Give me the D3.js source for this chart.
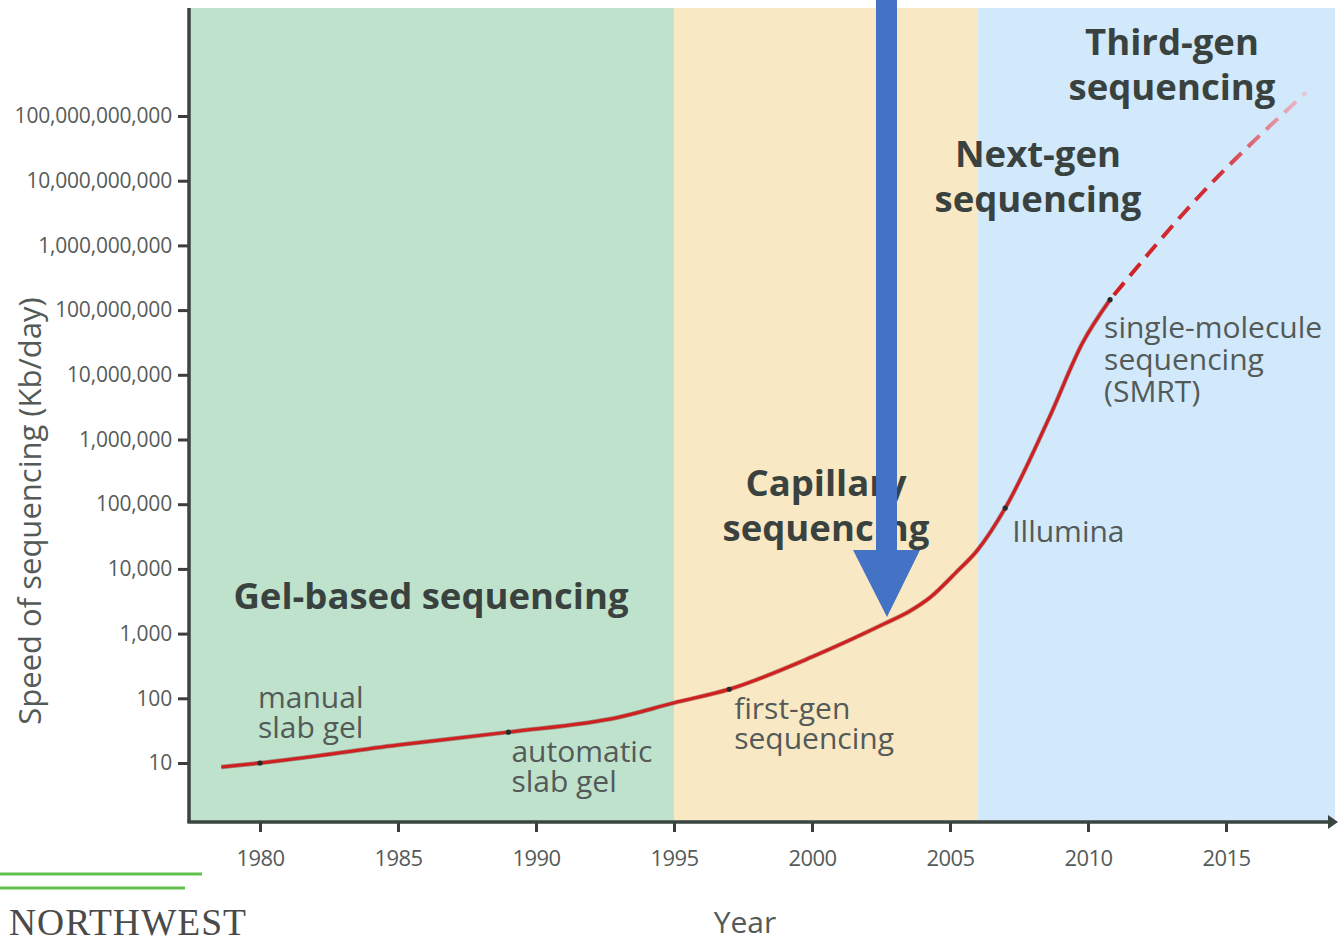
<!DOCTYPE html>
<html>
<head>
<meta charset="utf-8">
<script src="https://cdn.jsdelivr.net/npm/d3@7"></script>
<style>
  html, body { margin: 0; padding: 0; background: #ffffff; }
  svg { display: block; }
</style>
</head>
<body>
<svg id="chart" width="1338" height="942"></svg>
<script>
// ---------------- DATA ----------------
const eraNames  = ["Gel-based", "Capillary", "Next-gen/Third-gen"];
const eraStart  = [1977.43, 1995, 2006];
const eraEnd    = [1995, 2006, 2018.95];

const yTickValues = [10, 100, 1e3, 1e4, 1e5, 1e6, 1e7, 1e8, 1e9, 1e10, 1e11];
const xTickValues = [1980, 1985, 1990, 1995, 2000, 2005, 2010, 2015];

// solid curve (year, Kb/day)
const solidYears  = [1978.6, 1980, 1985, 1989, 1993, 1995, 1997, 2000, 2001.3, 2002.6, 2003.55, 2004.3, 2005.2, 2006, 2007, 2008.6, 2009.8, 2010.8];
const solidValues = [8.7, 10, 19, 30, 51, 85, 138, 436, 769, 1406, 2234, 3680, 8650, 19600, 87000, 2.2e6, 3.1e7, 1.45e8];

// projected (dashed) curve
const dashYears  = [2010.8, 2014, 2017.9];
const dashValues = [1.45e8, 5.6e9, 2.3e11];

// technology milestones
const milestoneYears  = [1980, 1989, 1997, 2007, 2010.8];
const milestoneValues = [10, 30, 138, 87000, 1.45e8];
const milestoneLabels = [["manual", "slab gel"], ["automatic", "slab gel"], ["first-gen", "sequencing"], ["Illumina"], ["single-molecule", "sequencing", "(SMRT)"]];

// era headings
const headingLines = [["Gel-based sequencing"], ["Capillary", "sequencing"], ["Next-gen", "sequencing"], ["Third-gen", "sequencing"]];

// ---------------- LAYOUT ----------------
const svg = d3.select("#chart");
const plotLeft = 189, plotRight = 1335, plotTop = 8, plotBottom = 821;

const x = d3.scaleLinear().domain([1980, 2015]).range([260, 1226]);
const y = d3.scaleLog().domain([10, 1e11]).range([763, 116]);

const eraColors = ["#bfe2cc", "#f9e8c4", "#d2e8fb"];
const textDark = "#3a423f";
const textMid = "#535a58";
const fontSans = "'Open Sans', 'Noto Sans', sans-serif";

// era bands
svg.append("g").selectAll("rect")
  .data(eraNames)
  .join("rect")
  .attr("x", (d, i) => x(eraStart[i]))
  .attr("y", plotTop)
  .attr("width", (d, i) => x(eraEnd[i]) - x(eraStart[i]))
  .attr("height", plotBottom - plotTop)
  .attr("fill", (d, i) => eraColors[i]);

// y axis
const yAxis = d3.axisLeft(y)
  .tickValues(yTickValues)
  .tickFormat(d3.format(","))
  .tickSize(10)
  .tickPadding(6);
const gy = svg.append("g")
  .attr("transform", `translate(${plotLeft - 1},0)`)
  .call(yAxis);
gy.select(".domain").remove();
gy.selectAll(".tick line").attr("stroke", "#3a3f3d").attr("stroke-width", 3);
gy.selectAll(".tick text")
  .attr("fill", "#555b59")
  .style("font-family", fontSans)
  .style("font-size", "21px")
  .style("letter-spacing", "-0.2px");

// x axis
const xAxis = d3.axisBottom(x)
  .tickValues(xTickValues)
  .tickFormat(d3.format("d"))
  .tickSize(10)
  .tickPadding(18);
const gx = svg.append("g")
  .attr("transform", `translate(0,${plotBottom + 1})`)
  .call(xAxis);
gx.select(".domain").remove();
gx.selectAll(".tick line").attr("stroke", "#3a3f3d").attr("stroke-width", 3);
gx.selectAll(".tick text")
  .attr("fill", "#555b59")
  .style("font-family", fontSans)
  .style("font-size", "22px")
  .style("letter-spacing", "-0.6px");

// axis lines
svg.append("line")
  .attr("x1", plotLeft).attr("x2", plotLeft)
  .attr("y1", plotTop).attr("y2", plotBottom + 2)
  .attr("stroke", "#3a4541").attr("stroke-width", 3.5);
svg.append("line")
  .attr("x1", plotLeft - 1.5).attr("x2", 1330)
  .attr("y1", plotBottom + 1).attr("y2", plotBottom + 1)
  .attr("stroke", "#3a4541").attr("stroke-width", 3.5);
svg.append("path")
  .attr("d", `M1328,${plotBottom - 6} L1338,${plotBottom + 1} L1328,${plotBottom + 8} Z`)
  .attr("fill", "#3a4541");

// axis titles
svg.append("text")
  .attr("transform", `translate(41,${511}) rotate(-90)`)
  .attr("text-anchor", "middle")
  .attr("fill", textMid)
  .style("font-family", fontSans)
  .style("font-size", "31px")
  .text("Speed of sequencing (Kb/day)");
svg.append("text")
  .attr("x", 745).attr("y", 933)
  .attr("text-anchor", "middle")
  .attr("fill", textMid)
  .style("font-family", fontSans)
  .style("font-size", "30px")
  .text("Year");

// curves
const line = d3.line()
  .x(d => x(d[0]))
  .y(d => y(d[1]))
  .curve(d3.curveMonotoneX);

const solidPts = solidYears.map((yr, i) => [yr, solidValues[i]]);
const dashPts = dashYears.map((yr, i) => [yr, dashValues[i]]);

svg.append("path")
  .attr("d", line(solidPts))
  .attr("fill", "none")
  .attr("stroke", "#7a1515")
  .attr("stroke-width", 4.5)
  .attr("stroke-opacity", 0.45);
svg.append("path")
  .attr("d", line(solidPts))
  .attr("fill", "none")
  .attr("stroke", "#cf1f1f")
  .attr("stroke-width", 3);

const defs = svg.append("defs");
const grad = defs.append("linearGradient")
  .attr("id", "dashGrad")
  .attr("gradientUnits", "userSpaceOnUse")
  .attr("x1", x(dashYears[0])).attr("x2", x(dashYears[dashYears.length - 1]))
  .attr("y1", 0).attr("y2", 0);
grad.append("stop").attr("offset", 0).attr("stop-color", "#cf1f1f");
grad.append("stop").attr("offset", 0.55).attr("stop-color", "#d2303a");
grad.append("stop").attr("offset", 1).attr("stop-color", "#ebc6d6");

svg.append("path")
  .attr("d", line(dashPts))
  .attr("fill", "none")
  .attr("stroke", "url(#dashGrad)")
  .attr("stroke-width", 4)
  .attr("stroke-dasharray", "16 9")
  .attr("stroke-dashoffset", -6);

// milestones
svg.append("g").selectAll("circle")
  .data(milestoneYears)
  .join("circle")
  .attr("cx", d => x(d))
  .attr("cy", (d, i) => y(milestoneValues[i]))
  .attr("r", 2.6)
  .attr("fill", "#2a2a2a");

// milestone labels (offsets relative to the milestone point)
const labelDx = [-2, 3, 5, 7, -6];
const labelDy = [-55, 30, 30, 34, 38];
const labelLineH = [30, 30, 30, 30, 32];
const labelG = svg.append("g")
  .style("font-family", fontSans)
  .style("font-size", "30px")
  .style("letter-spacing", "0px")
  .attr("fill", textMid);
milestoneLabels.forEach((lines, i) => {
  const t = labelG.append("text")
    .attr("x", x(milestoneYears[i]) + labelDx[i])
    .attr("y", y(milestoneValues[i]) + labelDy[i]);
  lines.forEach((s, j) => {
    t.append("tspan")
      .attr("x", x(milestoneYears[i]) + labelDx[i])
      .attr("dy", j === 0 ? 0 : labelLineH[i])
      .text(s);
  });
});

// era headings
const headingX = [431, 826, 1038, 1172];
const headingY = [609, 496, 167, 55];
const headG = svg.append("g")
  .style("font-family", fontSans)
  .style("font-size", "36.5px")
  .style("font-weight", "bold")
  .style("letter-spacing", "0px")
  .attr("fill", textDark)
  .attr("text-anchor", "middle");
headingLines.forEach((lines, i) => {
  const t = headG.append("text").attr("y", headingY[i]);
  lines.forEach((s, j) => {
    t.append("tspan")
      .attr("x", headingX[i])
      .attr("dy", j === 0 ? 0 : 45)
      .text(s);
  });
});

// blue arrow
svg.append("path")
  .attr("d", "M876,0 L897,0 L897,550 L920,550 L887,617 L853,550 L876,550 Z")
  .attr("fill", "#4472c4");

// logo
svg.append("line").attr("x1", 0).attr("x2", 202).attr("y1", 874).attr("y2", 874)
  .attr("stroke", "#62c04c").attr("stroke-width", 3);
svg.append("line").attr("x1", 0).attr("x2", 185).attr("y1", 888).attr("y2", 888)
  .attr("stroke", "#62c04c").attr("stroke-width", 3);
svg.append("text")
  .attr("x", 9).attr("y", 935)
  .attr("fill", "#4a4a4a")
  .style("font-family", "'Liberation Serif', 'DejaVu Serif', serif")
  .style("font-size", "37.5px")
  .style("letter-spacing", "1px")
  .text("NORTHWEST");
</script>
</body>
</html>
